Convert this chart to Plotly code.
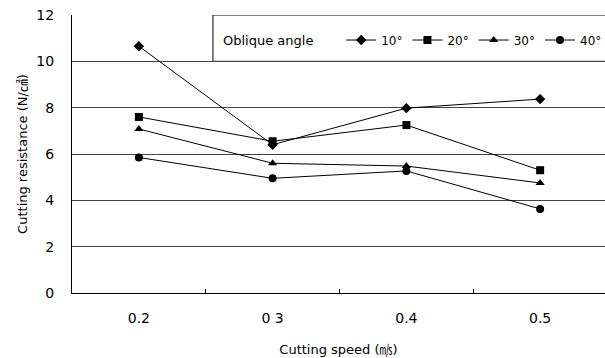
import plotly.graph_objects as go

speeds = ["0.2", "0 3", "0.4", "0.5"]
angles = ["10°", "20°", "30°", "40°"]
r10 = [10.65, 6.4, 7.98, 8.37]
r20 = [7.6, 6.55, 7.25, 5.3]
r30 = [7.08, 5.6, 5.48, 4.75]
r40 = [5.85, 4.95, 5.27, 3.63]
series = [r10, r20, r30, r40]
symbols = ["diamond", "square", "triangle-up", "circle"]
sizes = [8, 8, 8, 8]

FONT = "DejaVu Sans, Noto Sans CJK KR"

fig = go.Figure()
for name, vals, sym, sz in zip(angles, series, symbols, sizes):
    fig.add_trace(go.Scatter(
        x=speeds, y=vals, name=name, mode="lines+markers",
        line=dict(color="black", width=1),
        marker=dict(symbol=sym, size=sz, color="black"),
    ))

fig.add_shape(type="rect", xref="paper", yref="y", x0=0.2645, x1=1.02, y0=10, y1=12,
              line=dict(color="black", width=1), fillcolor="rgba(0,0,0,0)", layer="below")
fig.add_annotation(text="Oblique angle", xref="paper", yref="paper", x=0.28, y=0.91,
                   xanchor="left", yanchor="middle", showarrow=False,
                   font=dict(family=FONT, size=13, color="black"))

fig.update_layout(
    width=605, height=358,
    margin=dict(l=72, r=0, t=15, b=65, autoexpand=False),
    paper_bgcolor="white", plot_bgcolor="white",
    font=dict(family=FONT, color="black"),
    showlegend=True,
    legend=dict(orientation="h", x=0.505, y=0.91, xanchor="left", yanchor="middle",
                font=dict(family=FONT, size=12, color="black"),
                bgcolor="rgba(0,0,0,0)", itemwidth=30, tracegroupgap=0),
    xaxis=dict(type="category", range=[-0.5, 3.485], showgrid=False,
               showline=True, linecolor="black", linewidth=1,
               ticks="inside", tickson="boundaries", ticklen=4, tickcolor="black",
               tickfont=dict(size=14, family=FONT), ticklabelstandoff=12,
               title=dict(text="Cutting speed (㎧)", font=dict(size=13, family=FONT), standoff=20)),
    yaxis=dict(range=[0, 12], dtick=2, showgrid=True, gridcolor="#444", gridwidth=1,
               showline=True, linecolor="black", linewidth=1, zeroline=False,
               ticks="", tickfont=dict(size=14, family=FONT), ticklabelstandoff=14,
               title=dict(text="Cutting resistance (N/㎠)", font=dict(size=13, family=FONT), standoff=5)),
)

fig.write_html("out.html")
